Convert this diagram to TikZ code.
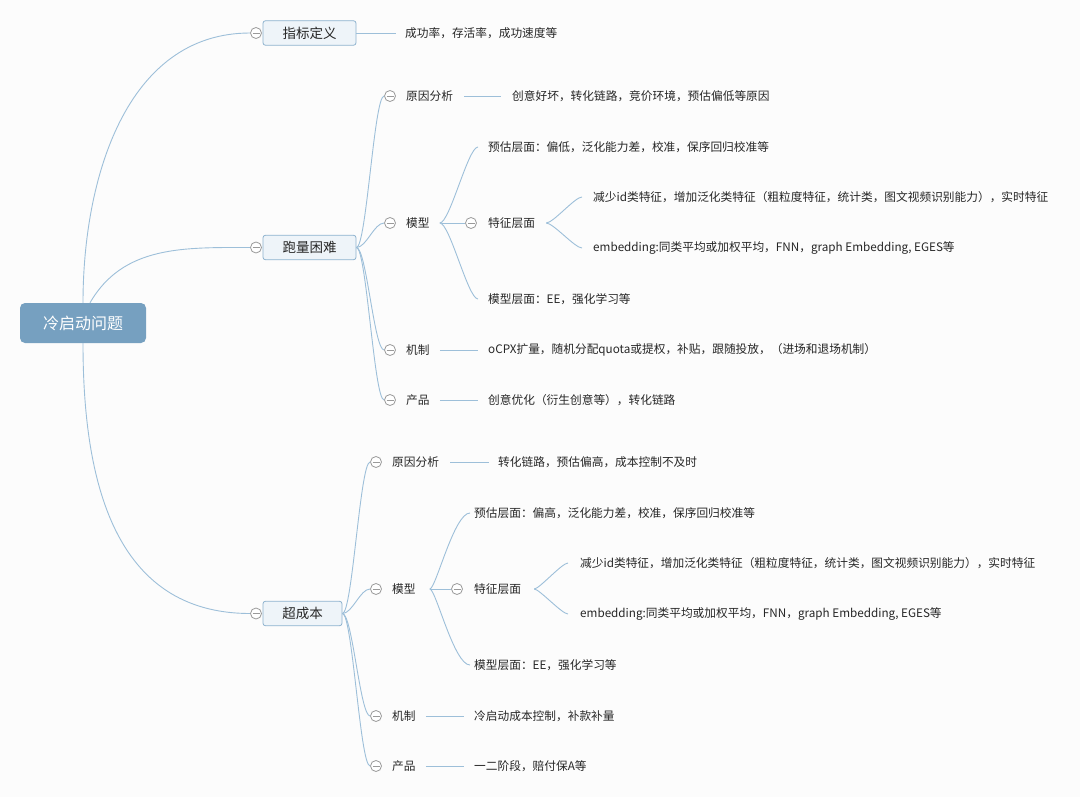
\documentclass[tikz,border=0pt]{standalone}
\usepackage{fontspec}
\setmainfont{Noto Sans CJK SC}
\definecolor{lnk}{HTML}{9DBFD9}
\definecolor{togc}{HTML}{9A9A9A}
\definecolor{txt}{HTML}{262626}
\definecolor{boxb}{HTML}{8DB2CE}
\definecolor{boxf}{HTML}{EEF4F9}
\definecolor{rootf}{HTML}{76A0C0}
\definecolor{bg}{HTML}{FCFCFC}
\begin{document}
\begin{tikzpicture}[x=1pt,y=-1pt,
  tog/.style={circle,draw=togc,fill=white,line width=0.8pt,minimum size=11pt,inner sep=0pt,
    path picture={\draw[togc,line width=0.8pt] ([xshift=-3.5pt]path picture bounding box.center) -- ([xshift=3.5pt]path picture bounding box.center);}},
  lf/.style={anchor=west,inner sep=0pt,font=\fontsize{11.7}{13}\selectfont,text=txt},
  l1/.style={draw=boxb,fill=boxf,rounded corners=2.5pt,line width=0.8pt,font=\fontsize{13.5}{15}\selectfont,text=txt,minimum height=24.5pt,inner sep=0pt},
  rootbox/.style={fill=rootf,rounded corners=5pt,minimum width=126pt,minimum height=40pt,inner sep=0pt,font=\fontsize{16}{18}\selectfont,text=white},
  cn/.style={draw=lnk,line width=0.9pt},
  sh/.style={shorten <=#1,shorten >=#1}
]
\path[fill=bg] (0,0) rectangle (1080,797);

% root
\node[rootbox] (root) at (83,323) {冷启动问题};

% level 1
\node[tog] (czb) at (256,33) {};
\node[l1,minimum width=93pt] (zb) at (309.5,33) {指标定义};
\node[tog] (cpl) at (256,247.5) {};
\node[l1,minimum width=93pt] (pl) at (309.5,247.5) {跑量困难};
\node[tog] (ccb) at (256,613.5) {};
\node[l1,minimum width=79pt] (cb) at (302.5,613.5) {超成本};

\draw[cn] (root.north) to[out=90,in=180] (czb.west);
\draw[cn] ([xshift=7pt]root.north) to[out=60,in=180] (cpl.west);
\draw[cn] (root.south) to[out=-90,in=180,looseness=1.1] (ccb.west);

% 指标定义
\node[lf] (zbt) at (405,33) {成功率，存活率，成功速度等};
\draw[cn,shorten >=9pt] (zb.east) -- (zbt.west);

% ===== 跑量困难 =====
\node[tog] (a1c) at (390,96) {};
\node[lf] (a1) at (406,96) {原因分析};
\node[lf] (a1t) at (512,96) {创意好坏，转化链路，竞价环境，预估偏低等原因};
\node[tog] (a2c) at (390,223) {};
\node[lf] (a2) at (406,223) {模型};
\node[tog] (a3c) at (390,350) {};
\node[lf] (a3) at (406,350) {机制};
\node[lf] (a3t) at (488,350) {oCPX扩量，随机分配quota或提权，补贴，跟随投放，（进场和退场机制）};
\node[tog] (a4c) at (390,400) {};
\node[lf] (a4) at (406,400) {产品};
\node[lf] (a4t) at (488,400) {创意优化（衍生创意等），转化链路};

\foreach \c in {a1c,a2c,a3c,a4c}
  \draw[cn] (pl.east) to[out=0,in=180,distance=10pt] (\c.west);
\draw[cn,sh=11pt] (a1.east) -- (a1t.west);
\draw[cn,sh=10pt] (a3.east) -- (a3t.west);
\draw[cn,sh=10pt] (a4.east) -- (a4t.west);

\node[lf] (a21) at (488,147) {预估层面：偏低，泛化能力差，校准，保序回归校准等};
\node[tog] (a22c) at (471,223) {};
\node[lf] (a22) at (488,223) {特征层面};
\node[lf] (a23) at (488,299) {模型层面：EE，强化学习等};
\draw[cn,shorten <=12pt] (a2.east) -- (a22c.west);
\draw[cn,sh=10pt] (a2.east) to[out=0,in=180,distance=20pt] (a21.west);
\draw[cn,sh=10pt] (a2.east) to[out=0,in=180,distance=20pt] (a23.west);

\node[lf] (a221) at (593,197) {减少id类特征，增加泛化类特征（粗粒度特征，统计类，图文视频识别能力），实时特征};
\node[lf] (a222) at (593,248) {embedding:同类平均或加权平均，FNN，graph Embedding, EGES等};
\draw[cn,sh=11pt] (a22.east) to[out=0,in=180,distance=18pt] (a221.west);
\draw[cn,sh=11pt] (a22.east) to[out=0,in=180,distance=18pt] (a222.west);

% ===== 超成本 =====
\node[tog] (b1c) at (376,462) {};
\node[lf] (b1) at (392,462) {原因分析};
\node[lf] (b1t) at (498,462) {转化链路，预估偏高，成本控制不及时};
\node[tog] (b2c) at (376,589) {};
\node[lf] (b2) at (392,589) {模型};
\node[tog] (b3c) at (376,716) {};
\node[lf] (b3) at (392,716) {机制};
\node[lf] (b3t) at (474,716) {冷启动成本控制，补款补量};
\node[tog] (b4c) at (376,766) {};
\node[lf] (b4) at (392,766) {产品};
\node[lf] (b4t) at (474,766) {一二阶段，赔付保A等};

\foreach \c in {b1c,b2c,b3c,b4c}
  \draw[cn] (cb.east) to[out=0,in=180,distance=10pt] (\c.west);
\draw[cn,shorten <=11pt,shorten >=9pt] (b1.east) -- (b1t.west);
\draw[cn,sh=10pt] (b3.east) -- (b3t.west);
\draw[cn,sh=10pt] (b4.east) -- (b4t.west);

\node[lf] (b21) at (474,513) {预估层面：偏高，泛化能力差，校准，保序回归校准等};
\node[tog] (b22c) at (457,589) {};
\node[lf] (b22) at (474,589) {特征层面};
\node[lf] (b23) at (474,665) {模型层面：EE，强化学习等};
\draw[cn,shorten <=14pt] (b2.east) -- (b22c.west);
\draw[cn,shorten <=14pt,shorten >=4pt] (b2.east) to[out=0,in=180,distance=20pt] (b21.west);
\draw[cn,shorten <=14pt,shorten >=4pt] (b2.east) to[out=0,in=180,distance=20pt] (b23.west);

\node[lf] (b221) at (580,563) {减少id类特征，增加泛化类特征（粗粒度特征，统计类，图文视频识别能力），实时特征};
\node[lf] (b222) at (580,614) {embedding:同类平均或加权平均，FNN，graph Embedding, EGES等};
\draw[cn,shorten <=13pt,shorten >=12pt] (b22.east) to[out=0,in=180,distance=18pt] (b221.west);
\draw[cn,shorten <=13pt,shorten >=12pt] (b22.east) to[out=0,in=180,distance=18pt] (b222.west);
\end{tikzpicture}
\end{document}
